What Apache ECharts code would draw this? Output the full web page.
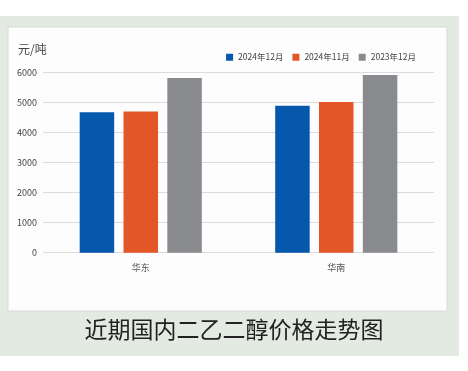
<!DOCTYPE html>
<html><head><meta charset="utf-8">
<script src="https://cdn.jsdelivr.net/npm/echarts@6/dist/echarts.min.js"></script>
<style>html,body{margin:0;padding:0;background:#fff;}#c{width:468px;height:371px;}</style>
</head><body><div id="c"></div>
<script>
const categories = ['华东', '华南'];
const seriesNames = ['2024年12月', '2024年11月', '2023年12月'];
const dec2024 = [4670, 4890];
const nov2024 = [4700, 5010];
const dec2023 = [5810, 5910];
const yTicks = [0, 1000, 2000, 3000, 4000, 5000, 6000];
const colors = ['#0558AB', '#E25725', '#898B8E'];
const FONT = '"Noto Sans CJK SC", "Noto Sans", sans-serif';

const chart = echarts.init(document.getElementById('c'), null, {renderer: 'canvas'});
chart.setOption({
  animation: false,
  textStyle: {fontFamily: FONT},
  graphic: [
    {type: 'rect', z: -10, shape: {x: 0, y: 16, width: 459, height: 340}, style: {fill: '#E3EAE2'}},
    {type: 'rect', z: -9, shape: {x: 8, y: 27, width: 439, height: 284}, style: {fill: '#FDFDFD', stroke: '#D6DCD6', lineWidth: 1}},
    {type: 'text', left: 18, top: 43, style: {text: '元/吨', fontSize: 12, fill: '#444', fontFamily: FONT}},
    {type: 'text', left: 'center', top: 318, style: {text: '近期国内二乙二醇价格走势图', fontSize: 23, fill: '#222', fontFamily: FONT}}
  ],
  legend: {
    data: seriesNames, right: 47, top: 48, itemWidth: 7, itemHeight: 7, itemGap: 9,
    icon: 'rect', textStyle: {fontSize: 8.5, color: '#444', fontFamily: FONT}
  },
  grid: {left: 43, right: 34, top: 72.3, bottom: 118.3, containLabel: false},
  xAxis: {
    type: 'category', data: categories,
    axisLine: {show: false}, axisTick: {show: false},
    axisLabel: {fontSize: 9, color: '#555', margin: 10}
  },
  yAxis: {
    type: 'value', min: yTicks[0], max: yTicks[yTicks.length - 1], interval: 1000,
    axisLine: {show: false}, axisTick: {show: false},
    axisLabel: {fontSize: 9, color: '#444', margin: 6, formatter: function (v) { return String(v); }},
    splitLine: {lineStyle: {color: '#DCDCDC', width: 1}}
  },
  series: [
    {name: seriesNames[0], type: 'bar', data: dec2024, itemStyle: {color: colors[0]}, barWidth: 34.5, barGap: '27%', barCategoryGap: '38%'},
    {name: seriesNames[1], type: 'bar', data: nov2024, itemStyle: {color: colors[1]}, barWidth: 34.5},
    {name: seriesNames[2], type: 'bar', data: dec2023, itemStyle: {color: colors[2]}, barWidth: 34.5}
  ]
});
</script></body></html>
